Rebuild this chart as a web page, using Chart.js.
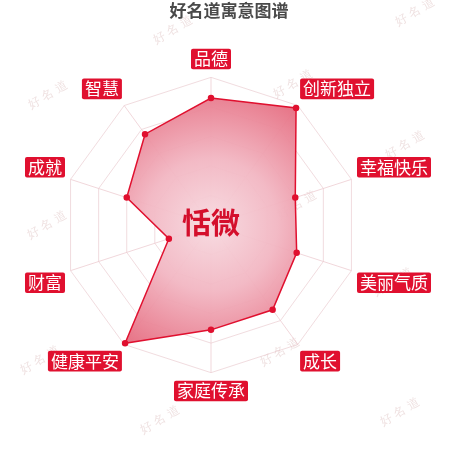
<!DOCTYPE html>
<html>
<head>
<meta charset="utf-8">
<script src="https://cdn.jsdelivr.net/npm/chart.js@4"></script>
<style>
  html, body { margin: 0; padding: 0; background: #fff; }
  #wrap { width: 450px; height: 450px; }
</style>
</head>
<body>
<div id="wrap"><canvas id="nameChart"></canvas></div>
<script>
const categories = ['品德', '创新独立', '幸福快乐', '美丽气质', '成长', '家庭传承', '健康平安', '财富', '成就', '智慧'];
const scores = [86, 98, 60, 61, 71, 71, 99, 30, 60, 76];
const nameText = '恬微';
const titleText = '好名道寓意图谱';
const watermarkText = '好名道';
const watermarkSpots = [[173, 30], [415, 12], [48, 95], [293, 84], [405, 145], [47, 225], [297, 205], [393, 282], [40, 360], [280, 352], [160, 420], [400, 412]];

const RED = '#e0102f';

// 背景水印 + 中间名字
const decoPlugin = {
  id: 'deco',
  beforeDraw(chart) {
    const ctx = chart.ctx;
    ctx.save();
    ctx.fillStyle = 'rgba(215,180,180,0.4)';
    ctx.font = '12px "DejaVu Serif", serif';
    ctx.textAlign = 'center';
    ctx.textBaseline = 'middle';
    watermarkSpots.forEach(p => {
      ctx.save();
      ctx.translate(p[0], p[1]);
      ctx.rotate(-Math.PI / 6);
      ctx.fillText(watermarkText.split('').join(' '), 0, 0);
      ctx.restore();
    });
    ctx.restore();
  },
  afterDatasetsDraw(chart) {
    const r = chart.scales.r;
    const ctx = chart.ctx;
    ctx.save();
    ctx.fillStyle = '#d40f2c';
    ctx.font = 'bold 29px "Noto Sans CJK SC", sans-serif';
    ctx.textAlign = 'center';
    ctx.textBaseline = 'middle';
    ctx.fillText(nameText, r.xCenter, r.yCenter - 2);
    ctx.restore();
  }
};

function fillGradient(context) {
  const chart = context.chart;
  const r = chart.scales.r;
  if (!r || !r.drawingArea) return 'rgba(232,120,138,0.8)';
  const g = chart.ctx.createRadialGradient(r.xCenter, r.yCenter, 0, r.xCenter, r.yCenter, r.drawingArea);
  g.addColorStop(0, 'rgba(247,218,224,0.95)');
  g.addColorStop(0.45, 'rgba(242,182,194,0.95)');
  g.addColorStop(1, 'rgba(229,105,125,0.95)');
  return g;
}

const ctx = document.getElementById('nameChart').getContext('2d');
const chart = new Chart(ctx, {
  type: 'radar',
  data: {
    labels: categories,
    datasets: [{
      data: scores,
      borderColor: RED,
      borderWidth: 1.5,
      backgroundColor: fillGradient,
      fill: true,
      pointBackgroundColor: RED,
      pointBorderColor: RED,
      pointRadius: 2.5
    }]
  },
  options: {
    responsive: true,
    maintainAspectRatio: false,
    animation: false,
    layout: { padding: { top: 0, bottom: 31, left: 12, right: 4 } },
    plugins: {
      legend: { display: false },
      tooltip: { enabled: false },
      title: {
        display: true,
        text: titleText,
        color: '#4a4a4a',
        font: { family: '"Noto Sans CJK SC", sans-serif', size: 17, weight: 'bold' },
        padding: { top: 0, bottom: 11 }
      }
    },
    scales: {
      r: {
        min: 0,
        max: 100,
        ticks: { display: false, stepSize: 20 },
        grid: { color: 'rgba(228,185,192,0.5)', borderDash: [1, 2], lineWidth: 1 },
        angleLines: { color: 'rgba(238,205,210,0.8)', lineWidth: 1 },
        pointLabels: {
          color: '#ffffff',
          font: { family: '"Noto Sans CJK SC", sans-serif', size: 17, lineHeight: 1.1 },
          backdropColor: RED,
          backdropPadding: { top: 1, bottom: 1, left: 3, right: 3 },
          borderRadius: 2,
          padding: 9
        }
      }
    }
  },
  plugins: [decoPlugin]
});
</script>
</body>
</html>
